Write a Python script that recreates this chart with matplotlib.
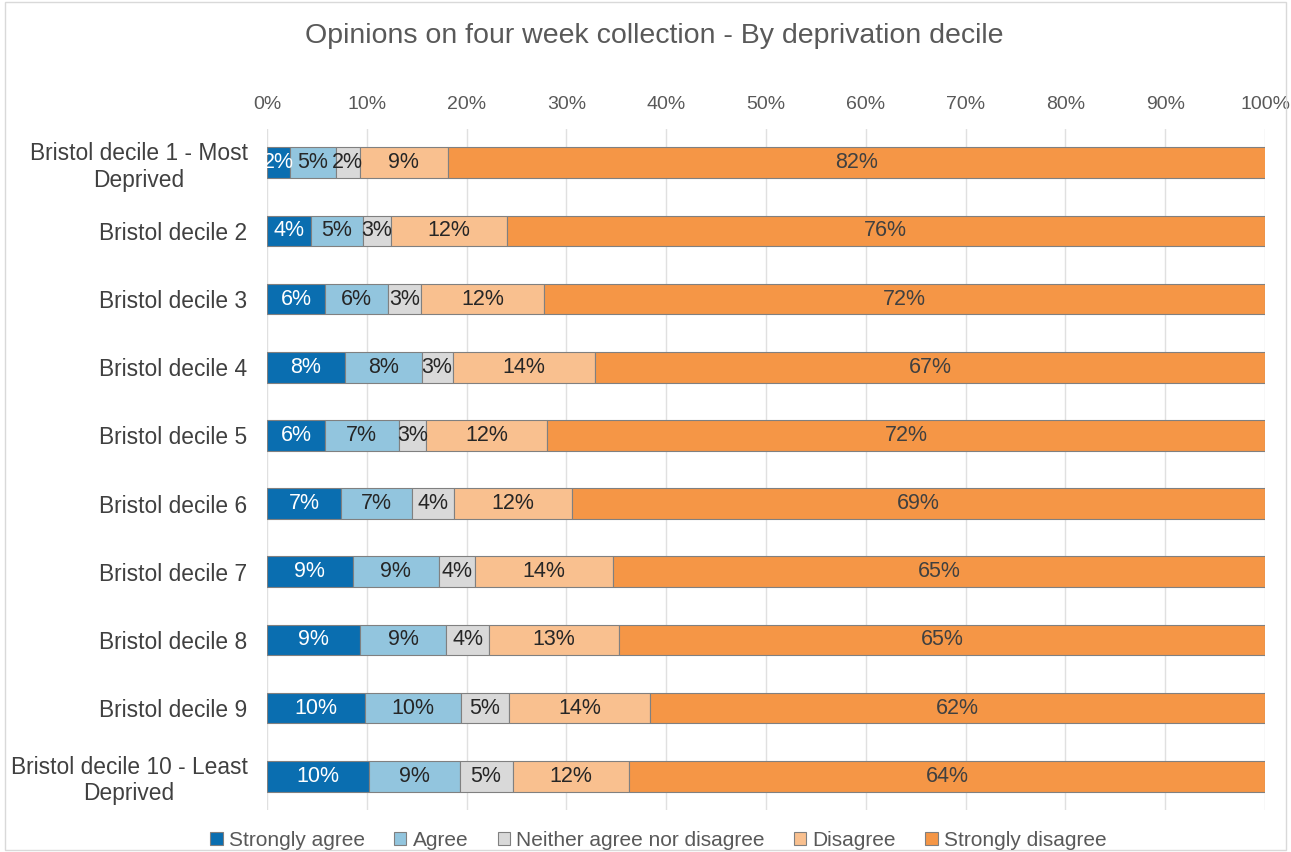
import numpy as np
import matplotlib
matplotlib.use("Agg")
import matplotlib.pyplot as plt
from matplotlib.patches import Rectangle

plt.rcParams['font.family'] = ['Liberation Sans', 'DejaVu Sans']

categories = ["Bristol decile 1 - Most\nDeprived", "Bristol decile 2", "Bristol decile 3",
              "Bristol decile 4", "Bristol decile 5", "Bristol decile 6",
              "Bristol decile 7", "Bristol decile 8", "Bristol decile 9",
              "Bristol decile 10 - Least\nDeprived"]
series_names = ["Strongly agree", "Agree", "Neither agree nor disagree", "Disagree", "Strongly disagree"]

strongly_agree = [2.3, 4.4, 5.8, 7.8, 5.8, 7.4, 8.6, 9.35, 9.8, 10.2]
agree = [4.6, 5.2, 6.3, 7.7, 7.4, 7.1, 8.6, 8.6, 9.6, 9.1]
neither = [2.4, 2.8, 3.3, 3.1, 2.7, 4.2, 3.6, 4.3, 4.8, 5.3]
disagree = [8.8, 11.6, 12.4, 14.3, 12.2, 11.9, 13.9, 13.0, 14.2, 11.7]
strongly_disagree = [82.0, 76.0, 72.2, 67.1, 71.9, 69.4, 65.3, 64.75, 61.6, 63.7]

colors = ["#0a6eb0", "#92c5de", "#d9d9d9", "#f9c08f", "#f59646"]
text_colors = ["white", "#262626", "#262626", "#262626", "#404040"]

data = [strongly_agree, agree, neither, disagree, strongly_disagree]

fig = plt.figure(figsize=(12.91, 8.52), dpi=100)
ax = fig.add_axes([0.2068, 0.049, 0.7731, 0.8])

y = np.arange(len(categories))
left = np.zeros(len(categories))
for vals, name, col, tcol in zip(data, series_names, colors, text_colors):
    vals = np.array(vals)
    bars = ax.barh(y, vals, left=left, height=0.45, color=col, edgecolor="#808080",
                   linewidth=0.8, label=name, zorder=3)
    for b, v in zip(bars, vals):
        ax.text(b.get_x() + b.get_width() / 2, b.get_y() + b.get_height() / 2,
                f"{v:.0f}%", ha="center", va="center", fontsize=15.5, color=tcol, zorder=4)
    left += vals

ax.set_xlim(0, 100)
ax.set_ylim(9.5, -0.5)
ax.set_xticks(np.arange(0, 101, 10))
ax.set_xticklabels([f"{t}%" for t in range(0, 101, 10)])
ax.xaxis.tick_top()
ax.tick_params(axis="x", length=0, labelsize=14, colors="#595959", pad=11)
ax.set_yticks(y)
ax.set_yticklabels(categories)
ax.tick_params(axis="y", length=0, labelsize=16.4, colors="#404040", pad=14)
for lbl in ax.get_yticklabels():
    lbl.set_horizontalalignment("right")
    lbl.set_multialignment("center")
ax.grid(axis="x", color="#e0e0e0", linewidth=1, zorder=0)
for s in ax.spines.values():
    s.set_visible(False)

fig.text(0.507, 0.958, "Opinions on four week collection - By deprivation decile",
         ha="center", va="center", fontsize=20.5, color="#595959")

leg = fig.legend(loc="center", bbox_to_anchor=(0.51, 0.014), ncol=5, frameon=False,
                 fontsize=15, handlelength=0.6, handleheight=0.6, handletextpad=0.3,
                 columnspacing=1.4, labelcolor="#595959")

fig.patches.append(Rectangle((0.004, 0.002), 0.992, 0.996, transform=fig.transFigure,
                             fill=False, edgecolor="#d9d9d9", linewidth=1))

fig.savefig("out.png", dpi=100)
